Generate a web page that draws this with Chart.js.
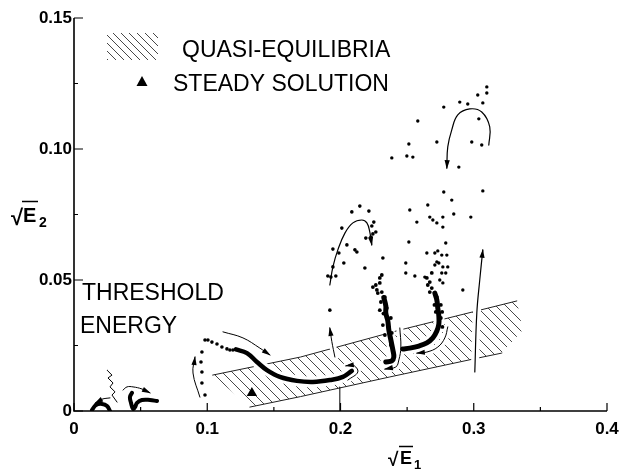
<!DOCTYPE html>
<html>
<head>
<meta charset="utf-8">
<script src="https://cdn.jsdelivr.net/npm/chart.js@4.4.1/dist/chart.umd.min.js"></script>
<style>
  html, body { margin: 0; padding: 0; background: #fff; }
</style>
</head>
<body>
<canvas id="chart" width="629" height="470"></canvas>
<script>
// axes
const xTicks = [0, 0.1, 0.2, 0.3, 0.4];
const xTickLabels = ['0', '0.1', '0.2', '0.3', '0.4'];
const xMinorTicks = [0.05, 0.15, 0.25, 0.35];
const yTicks = [0, 0.05, 0.10, 0.15];
const yTickLabels = ['0', '0.05', '0.10', '0.15'];
const yMinorTicks = [0.025, 0.075, 0.125];

// quasi-equilibria band (edges)
const bandTop = [[0.104, 0.0137], [0.17, 0.0206], [0.2445, 0.0309], [0.3323, 0.042]];
const bandEnd = [[0.3368, 0.0309]];
const bandBottom = [[0.321, 0.0221], [0.303, 0.0202], [0.237, 0.013], [0.17, 0.0055], [0.132, 0.0015]];

// steady solution
const steady = [[0.1335, 0.0069]];

// near the origin
const originHump = [[0.0135, 0.0004], [0.0165, 0.0023], [0.021, 0.0027], [0.0248, 0.0019], [0.027, 0.0]];
const originArrow = [[0.027, 0.005], [0.021, 0.0045], [0.0158, 0.003]];
const zigzag = [[0.0248, 0.0156], [0.0285, 0.0137], [0.0255, 0.0126], [0.0293, 0.0107], [0.027, 0.0092],
                [0.0308, 0.0073], [0.0285, 0.0061], [0.0323, 0.0034]];
const hook = [[0.0435, 0.0069], [0.042, 0.0053], [0.0428, 0.0031], [0.0443, 0.0008], [0.0458, 0.0015],
              [0.0473, 0.0031], [0.051, 0.0042], [0.057, 0.0042], [0.0623, 0.0038]];
const hookArrow = [[0.0368, 0.008], [0.0398, 0.0092], [0.0443, 0.0092], [0.051, 0.0084], [0.057, 0.0069]];

// trajectory starting at 0.1
const loopDots = [[0.0983, 0.0061], [0.096, 0.0107], [0.096, 0.0149], [0.0953, 0.0187], [0.096, 0.0225],
                  [0.0983, 0.0271], [0.1005, 0.0271], [0.1035, 0.0263], [0.1073, 0.0256], [0.111, 0.0244],
                  [0.1148, 0.0237], [0.117, 0.0233], [0.1193, 0.0233]];
const sweep = [[0.1215, 0.0235], [0.1298, 0.0221], [0.1373, 0.0187], [0.1448, 0.0156], [0.1545, 0.013],
               [0.1673, 0.0115], [0.1793, 0.0111], [0.192, 0.0118], [0.2018, 0.013], [0.2085, 0.0153]];
const sweepArrow = [[0.1118, 0.0302], [0.1268, 0.0279], [0.1395, 0.024], [0.147, 0.0214]];
const riseArrow = [[0.0945, 0.0053], [0.0893, 0.0145], [0.0908, 0.0206]];
const curlArrow = [[0.2055, 0.0118], [0.213, 0.0149], [0.2093, 0.0176], [0.204, 0.0172]];

// trajectory at 0.2
const stemLine = [[0.1995, 0.0], [0.1995, 0.0092]];
const stemArrow = [[0.1958, 0.0206], [0.1935, 0.0265], [0.192, 0.0317]];
const humpDots = [[0.2145, 0.0782], [0.2085, 0.076], [0.2213, 0.0763], [0.225, 0.0721], [0.2235, 0.0706],
                  [0.2265, 0.0683], [0.2243, 0.0676], [0.219, 0.066], [0.2228, 0.0664], [0.201, 0.0698],
                  [0.2048, 0.0634], [0.1943, 0.0618], [0.1988, 0.0603], [0.2108, 0.0615], [0.2123, 0.0607],
                  [0.2025, 0.0565], [0.2318, 0.0584], [0.2183, 0.0546], [0.1943, 0.055], [0.1905, 0.0515],
                  [0.1928, 0.0511], [0.1965, 0.0515], [0.192, 0.0385]];
const humpArrow = [[0.192, 0.0481], [0.1943, 0.055], [0.198, 0.0615], [0.2033, 0.0679], [0.2093, 0.0718],
                   [0.216, 0.0729], [0.2198, 0.0718], [0.222, 0.0683], [0.2235, 0.0634]];

// first dense column
const column1 = [[0.2325, 0.0433], [0.234, 0.0401], [0.234, 0.0374], [0.2355, 0.0344], [0.2363, 0.0309],
                 [0.2378, 0.0271], [0.2393, 0.0233], [0.24, 0.0206], [0.2385, 0.0191], [0.234, 0.0187]];
const column1Dots = [[0.231, 0.0519], [0.2295, 0.0508], [0.2243, 0.0473], [0.2273, 0.0462], [0.228, 0.045],
                     [0.231, 0.0454], [0.2295, 0.0489], [0.2265, 0.0481], [0.2333, 0.0435], [0.2303, 0.0416],
                     [0.2348, 0.0393], [0.2295, 0.0385], [0.2355, 0.0355], [0.2318, 0.0328], [0.2363, 0.0317],
                     [0.2333, 0.029], [0.2378, 0.0252], [0.2378, 0.0355], [0.2322, 0.0372], [0.2385, 0.0298]];
const column1Arrow = [[0.2445, 0.0317], [0.2453, 0.0244], [0.2438, 0.0195], [0.2415, 0.0168], [0.2333, 0.016]];

// second dense column
const column2 = [[0.2708, 0.045], [0.2723, 0.0424], [0.273, 0.0393], [0.2738, 0.0363], [0.2738, 0.0332],
                 [0.2723, 0.0305], [0.2693, 0.0279], [0.2648, 0.026], [0.2588, 0.0248], [0.252, 0.024],
                 [0.2468, 0.0237]];
const column2Dots = [[0.2685, 0.0527], [0.2648, 0.0508], [0.267, 0.0492], [0.2655, 0.0481], [0.2685, 0.0469],
                     [0.267, 0.0454], [0.2723, 0.0435], [0.2753, 0.0405], [0.2715, 0.0378], [0.2753, 0.0355],
                     [0.2763, 0.0378], [0.2705, 0.0405], [0.2765, 0.0321]];
const column2Arrow = [[0.2805, 0.0321], [0.2783, 0.0279], [0.273, 0.0244], [0.2648, 0.0225], [0.2573, 0.0221]];

// scattered points above 0.25
const burstDots = [[0.3098, 0.1237], [0.3098, 0.1214], [0.303, 0.1206], [0.2895, 0.1179], [0.2955, 0.1172],
                   [0.3068, 0.1176], [0.2775, 0.116], [0.3038, 0.1115], [0.258, 0.1107], [0.2723, 0.1027],
                   [0.2985, 0.1027], [0.306, 0.1015], [0.2513, 0.1019], [0.2385, 0.0966], [0.2498, 0.0973],
                   [0.2543, 0.0969], [0.2888, 0.0931], [0.2775, 0.0836], [0.3068, 0.084], [0.2835, 0.0805],
                   [0.252, 0.0767], [0.2655, 0.0786], [0.267, 0.074], [0.2693, 0.0729], [0.2723, 0.0718],
                   [0.2768, 0.074], [0.285, 0.0752], [0.2978, 0.074], [0.2573, 0.0721], [0.2768, 0.0702],
                   [0.2513, 0.0645], [0.279, 0.0641], [0.2648, 0.0603], [0.2708, 0.0603], [0.273, 0.0611],
                   [0.276, 0.0595], [0.2798, 0.0595], [0.2723, 0.0569], [0.2708, 0.0557], [0.2738, 0.0565],
                   [0.2768, 0.055], [0.2805, 0.055], [0.249, 0.0565], [0.249, 0.0527], [0.2558, 0.0515],
                   [0.2633, 0.0511], [0.276, 0.0527], [0.279, 0.0527], [0.2745, 0.05], [0.2768, 0.0489],
                   [0.2918, 0.0462]];
const topArrow = [[0.3113, 0.1015], [0.312, 0.1084], [0.306, 0.1141], [0.297, 0.1153], [0.288, 0.113],
                  [0.2835, 0.1073], [0.2805, 0.1008], [0.2798, 0.0927]];
const longArrow = [[0.3008, 0.0149], [0.3023, 0.0374], [0.3045, 0.05], [0.3068, 0.0615]];

const pts = a => a.map(([x, y]) => ({ x: x, y: y }));

function makeHatch(size) {
    const c = document.createElement('canvas');
    c.width = size; c.height = size;
    const g = c.getContext('2d');
    g.strokeStyle = '#333';
    g.lineWidth = 0.9;
    g.beginPath();
    g.moveTo(0, 0); g.lineTo(size, size);
    g.moveTo(-2, size - 2); g.lineTo(2, size + 2);
    g.moveTo(size - 2, -2); g.lineTo(size + 2, 2);
    g.stroke();
    return g.createPattern(c, 'repeat');
}
const hatch = makeHatch(10);
const legendHatch = makeHatch(8);

function curve(data, width, extra) {
    return Object.assign({
        data: pts(data), showLine: true, borderColor: '#000', borderWidth: width,
        borderCapStyle: 'round', pointRadius: 0, tension: 0.4, fill: false, order: 1
    }, extra || {});
}
function halo(data, width) {
    return curve(data, width, { borderColor: '#fff', order: 2 });
}
function dots(data, r) {
    return {
        data: pts(data), showLine: false, pointRadius: r, pointBackgroundColor: '#000',
        pointBorderWidth: 0, order: 0
    };
}

const datasets = [
    { data: pts([...bandTop, ...bandEnd, ...bandBottom]), showLine: true, borderWidth: 0,
      fill: 'shape', backgroundColor: hatch, pointRadius: 0, tension: 0, order: 4 },
    curve(bandTop, 1, { tension: 0, order: 3, borderColor: '#222' }),
    curve(bandBottom, 1, { tension: 0, order: 3, borderColor: '#222' }),

    halo(sweep, 11), halo(column1, 11), halo(column2, 11), halo(longArrow, 8),
    halo(column1Arrow, 7), halo(column2Arrow, 7), halo(stemArrow, 7), halo(curlArrow, 6),

    curve(originHump, 4),
    curve(originArrow, 1, { arrow: true }),
    curve(zigzag, 1, { tension: 0 }),
    curve(hook, 4),
    curve(hookArrow, 1, { arrow: true }),
    curve(sweep, 4.5),
    curve(sweepArrow, 1, { arrow: true }),
    curve(riseArrow, 1, { arrow: true }),
    curve(curlArrow, 1, { arrow: true }),
    curve(stemLine, 1, { tension: 0 }),
    curve(stemArrow, 1, { arrow: true }),
    curve(humpArrow, 1.2, { arrow: true }),
    curve(column1, 5),
    curve(column1Arrow, 1, { arrow: true }),
    curve(column2, 5),
    curve(column2Arrow, 1, { arrow: true }),
    curve(topArrow, 1.2, { arrow: true }),
    curve(longArrow, 1.2, { arrow: true }),

    dots(loopDots, 1.8),
    dots(humpDots, 1.8),
    dots(column1Dots, 1.9),
    dots(column2Dots, 1.9),
    dots(burstDots, 1.7),
    { data: pts(steady), showLine: false, pointStyle: 'triangle', pointRadius: 6,
      pointBackgroundColor: '#000', pointBorderWidth: 0, order: 0 }
];

function tickLabel(ticks, labels, v) {
    const i = ticks.findIndex(t => Math.abs(t - v) < 1e-9);
    return i < 0 ? '' : labels[i];
}

const arrowHeads = {
    id: 'arrowHeads',
    afterDatasetsDraw(chart) {
        const ctx = chart.ctx;
        chart.data.datasets.forEach((ds, i) => {
            if (!ds.arrow) return;
            const els = chart.getDatasetMeta(i).data;
            const p1 = els[els.length - 1], p0 = els[els.length - 2];
            const ang = Math.atan2(p1.y - p0.y, p1.x - p0.x);
            ctx.save();
            ctx.translate(p1.x, p1.y);
            ctx.rotate(ang);
            ctx.fillStyle = '#000';
            ctx.beginPath();
            ctx.moveTo(1, 0);
            ctx.lineTo(-8, -2.6);
            ctx.lineTo(-8, 2.6);
            ctx.closePath();
            ctx.fill();
            ctx.restore();
        });
    }
};

const frame = {
    id: 'frame',
    afterDraw(chart) {
        const ctx = chart.ctx, a = chart.chartArea;
        const xs = chart.scales.x, ys = chart.scales.y;
        ctx.save();
        ctx.strokeStyle = '#000';
        ctx.lineWidth = 1.6;
        ctx.beginPath();
        ctx.moveTo(a.left, a.top);
        ctx.lineTo(a.left, a.bottom);
        ctx.lineTo(a.right, a.bottom);
        ctx.stroke();

        ctx.lineWidth = 1.2;
        ctx.beginPath();
        yTicks.forEach(v => { const y = ys.getPixelForValue(v); ctx.moveTo(a.left, y); ctx.lineTo(a.left + 9, y); });
        yMinorTicks.forEach(v => { const y = ys.getPixelForValue(v); ctx.moveTo(a.left, y); ctx.lineTo(a.left + 4, y); });
        xTicks.forEach(v => { const x = xs.getPixelForValue(v); ctx.moveTo(x, a.bottom); ctx.lineTo(x, a.bottom - 8); });
        xMinorTicks.forEach(v => { const x = xs.getPixelForValue(v); ctx.moveTo(x, a.bottom); ctx.lineTo(x, a.bottom - 4); });
        ctx.stroke();

        // legend
        ctx.save();
        ctx.beginPath();
        ctx.rect(107, 33, 51, 27);
        ctx.clip();
        ctx.fillStyle = legendHatch;
        ctx.fillRect(107, 33, 51, 27);
        ctx.restore();
        ctx.fillStyle = '#000';
        ctx.beginPath();
        ctx.moveTo(142, 76);
        ctx.lineTo(147.5, 86);
        ctx.lineTo(136.5, 86);
        ctx.closePath();
        ctx.fill();

        ctx.font = '23px "Liberation Sans", Arial, sans-serif';
        ctx.textBaseline = 'alphabetic';
        ctx.textAlign = 'left';
        ctx.fillText('QUASI-EQUILIBRIA', 182, 57);
        ctx.fillText('STEADY SOLUTION', 173, 91);
        ctx.fillText('THRESHOLD', 82, 300);
        ctx.fillText('ENERGY', 80, 333);

        // axis titles
        ctx.font = 'bold 22px "Liberation Sans", Arial, sans-serif';
        ctx.fillText('\u221A', 11, 225);
        ctx.font = 'bold 20px "Liberation Sans", Arial, sans-serif';
        ctx.fillText('E', 23, 222);
        ctx.font = 'bold 14px "Liberation Sans", Arial, sans-serif';
        ctx.fillText('2', 39, 227);
        ctx.lineWidth = 1.5;
        ctx.beginPath(); ctx.moveTo(22, 201.5); ctx.lineTo(38, 201.5); ctx.stroke();

        ctx.font = 'bold 19px "Liberation Sans", Arial, sans-serif';
        ctx.fillText('\u221A', 388, 466);
        ctx.font = 'bold 18px "Liberation Sans", Arial, sans-serif';
        ctx.fillText('E', 400, 464);
        ctx.font = 'bold 13px "Liberation Sans", Arial, sans-serif';
        ctx.fillText('1', 414, 469);
        ctx.beginPath(); ctx.moveTo(399, 446.5); ctx.lineTo(413, 446.5); ctx.stroke();
        ctx.restore();
    }
};

new Chart(document.getElementById('chart'), {
    type: 'line',
    data: { datasets: datasets },
    options: {
        responsive: false,
        animation: false,
        events: [],
        layout: { padding: { top: 18, right: 22, left: 0, bottom: 0 } },
        plugins: { legend: { display: false }, tooltip: { enabled: false } },
        scales: {
            x: {
                type: 'linear', min: 0, max: 0.4,
                afterBuildTicks: s => { s.ticks = xTicks.map(v => ({ value: v })); },
                afterFit: s => { s.height = 59; },
                grid: { display: false, drawTicks: false },
                border: { display: false },
                ticks: {
                    padding: 8, color: '#000', maxRotation: 0,
                    font: { family: '"Liberation Sans", Arial, sans-serif', size: 17, weight: 'bold' },
                    callback: v => tickLabel(xTicks, xTickLabels, v)
                }
            },
            y: {
                type: 'linear', min: 0, max: 0.15,
                afterBuildTicks: s => { s.ticks = yTicks.map(v => ({ value: v })); },
                afterFit: s => { s.width = 74; },
                grid: { display: false, drawTicks: false },
                border: { display: false },
                ticks: {
                    padding: 2, color: '#000',
                    font: { family: '"Liberation Sans", Arial, sans-serif', size: 17, weight: 'bold' },
                    callback: v => tickLabel(yTicks, yTickLabels, v)
                }
            }
        }
    },
    plugins: [arrowHeads, frame]
});
</script>
</body>
</html>
